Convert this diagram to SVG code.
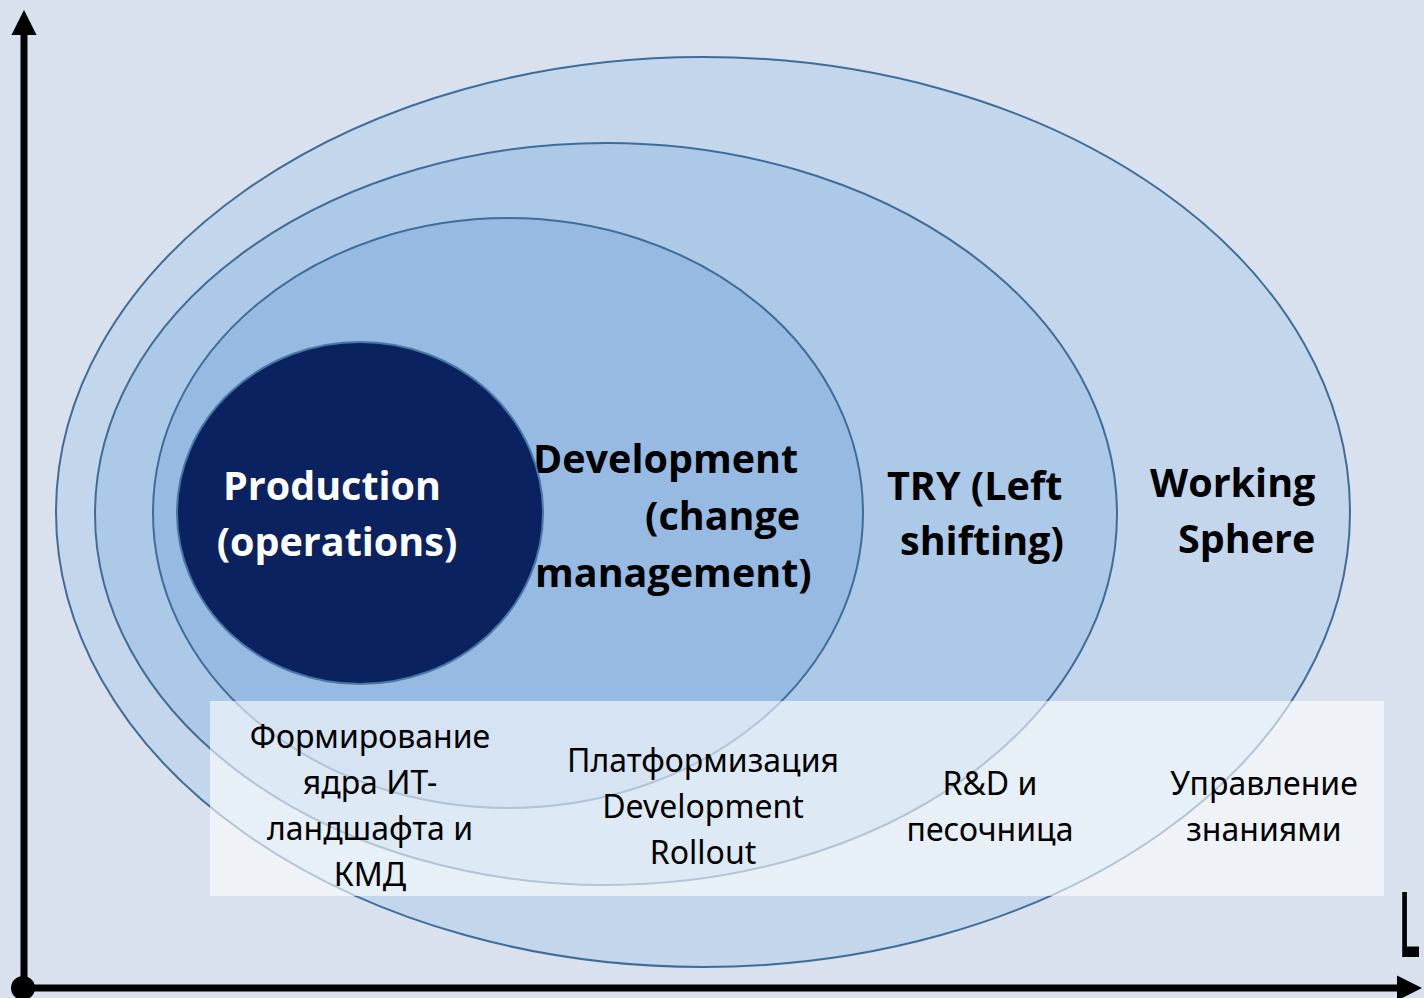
<svg xmlns="http://www.w3.org/2000/svg" width="1424" height="998" viewBox="0 0 1424 998">
<defs>
<style>
.ring{stroke:#3f6c98;stroke-width:2}
.hd{font-family:"Open Sans","Noto Sans","Liberation Sans",sans-serif;font-weight:bold;font-size:39.5px;fill:#000}
.wh{fill:#fff}
.bt{font-family:"Noto Sans","Open Sans","Liberation Sans",sans-serif;font-size:32px;fill:#000;text-anchor:middle}
.axis{stroke:#000;stroke-width:7;fill:none}
</style>
<marker id="arr" viewBox="0 0 10 10" refX="2" refY="5" markerWidth="3.6" markerHeight="3.6" orient="auto" markerUnits="strokeWidth">
<path d="M0,0 L10,5 L0,10 z" fill="#000"/>
</marker>
</defs>
<rect width="1424" height="998" fill="#d8e1ed"/>
<g id="working-sphere">
<ellipse cx="703" cy="512" rx="647" ry="455" fill="#c3d6ec" class="ring"/>
<text class="hd" x="1150" y="497">Working</text>
<text class="hd" x="1178" y="553">Sphere</text>
</g>
<g id="try">
<ellipse cx="606" cy="514" rx="511" ry="371" fill="#adc9e8" class="ring"/>
<text class="hd" x="887" y="500">TRY (Left</text>
<text class="hd" x="900" y="555">shifting)</text>
</g>
<g id="development">
<ellipse cx="508" cy="513" rx="355" ry="295" fill="#96bae2" class="ring"/>
<text class="hd" x="533" y="473">Development</text>
<text class="hd" x="645" y="530">(change</text>
<text class="hd" x="535" y="587">management)</text>
</g>
<g id="production">
<ellipse cx="360" cy="513" rx="183" ry="171" fill="#0b2261" stroke="#4a78a6" stroke-width="2"/>
<text class="hd wh" x="332" y="500" text-anchor="middle">Production</text>
<text class="hd wh" x="337" y="556" text-anchor="middle">(operations)</text>
</g>
<g id="activities">
<rect x="210" y="701" width="1174" height="195" fill="#ffffff" fill-opacity="0.6"/>
<text class="bt" x="370" y="748">Формирование</text>
<text class="bt" x="370" y="794">ядра ИТ-</text>
<text class="bt" x="370" y="840">ландшафта и</text>
<text class="bt" x="370" y="886">КМД</text>
<text class="bt" x="703" y="772">Платформизация</text>
<text class="bt" x="703" y="818">Development</text>
<text class="bt" x="703" y="864">Rollout</text>
<text class="bt" x="990" y="795">R&amp;D и</text>
<text class="bt" x="990" y="841">песочница</text>
<text class="bt" x="1264" y="795">Управление</text>
<text class="bt" x="1264" y="841">знаниями</text>
</g>
<g id="connectors">
<line class="axis" x1="24" y1="988" x2="24" y2="30" marker-end="url(#arr)"/>
<line class="axis" x1="24" y1="988" x2="1402" y2="988" marker-end="url(#arr)"/>
<circle cx="23" cy="988" r="12" fill="#000"/>
</g>
<text x="1400" y="957" font-family="Liberation Sans,sans-serif" font-weight="bold" font-size="95" fill="#000" textLength="20" lengthAdjust="spacingAndGlyphs">L</text>
</svg>
